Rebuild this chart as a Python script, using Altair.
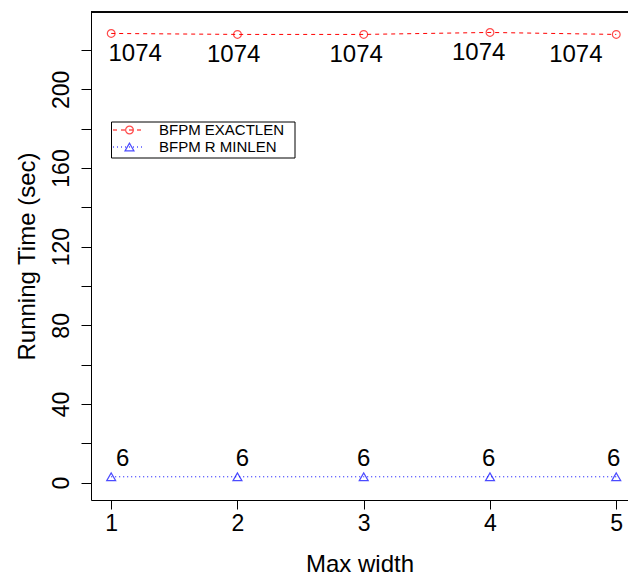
import altair as alt
import pandas as pd

# ---- data ----
max_width = [1, 2, 3, 4, 5]
exactlen_time = [228.4, 227.9, 227.9, 228.9, 227.9]
minlen_time = [3.0, 3.0, 3.0, 3.0, 3.0]
exactlen_label = ["1074", "1074", "1074", "1074", "1074"]
minlen_label = ["6", "6", "6", "6", "6"]
exactlen_label_x = [1.19, 1.97, 2.94, 3.91, 4.68]
minlen_label_x = [1.09, 2.04, 3.0, 3.99, 4.98]
legend_names = ["BFPM EXACTLEN", "BFPM R MINLEN"]
y_ticks = [0, 20, 40, 60, 80, 100, 120, 140, 160, 180, 200, 220]
x_ticks = [1, 2, 3, 4, 5]

FONT = "Liberation Sans"
W, H = 537, 488

red = pd.DataFrame({"x": max_width, "y": exactlen_time, "lx": exactlen_label_x, "lab": exactlen_label})
blue = pd.DataFrame({"x": max_width, "y": minlen_time, "lx": minlen_label_x, "lab": minlen_label})

xs = alt.Scale(domain=[0.84, 5.093], nice=False, zero=False)
ys = alt.Scale(domain=[-8.8, 239.3], nice=False, zero=False)

xaxis = alt.Axis(values=x_ticks, title="Max width", grid=False, tickSize=9, tickColor="black",
                 domainColor="black", labelFontSize=23, labelFont=FONT, labelColor="black",
                 labelPadding=3, titleFontSize=24, titleFont=FONT, titleFontWeight="normal",
                 titleColor="black", titleBaseline="alphabetic", titleY=71, format="d")
yaxis = alt.Axis(values=y_ticks, title="Running Time (sec)", grid=False, tickSize=10, tickColor="black",
                 domainColor="black", labelFontSize=23, labelFont=FONT, labelColor="black",
                 labelAngle=270, labelAlign="center", labelBaseline="alphabetic", labelPadding=13,
                 labelExpr="datum.value % 40 == 0 ? datum.label : ''",
                 titleFontSize=24, titleFont=FONT, titleFontWeight="normal", titleColor="black",
                 titleAngle=270, titleBaseline="alphabetic", titleX=-57, format="d")

base_r = alt.Chart(red)
base_b = alt.Chart(blue)

red_line = base_r.mark_line(color="#FF0000", strokeDash=[4, 4], strokeWidth=1).encode(
    x=alt.X("x:Q", scale=xs, axis=xaxis), y=alt.Y("y:Q", scale=ys, axis=yaxis))
red_pts = base_r.mark_point(shape="circle", filled=False, color="#FF0000", size=60, strokeWidth=1.2).encode(
    x=alt.X("x:Q", scale=xs), y=alt.Y("y:Q", scale=ys))
blue_line = base_b.mark_line(color="#0000FF", strokeDash=[1, 3], strokeWidth=1).encode(
    x=alt.X("x:Q", scale=xs), y=alt.Y("y:Q", scale=ys))
blue_pts = base_b.mark_point(shape="triangle-up", filled=False, color="#0000FF", size=80, strokeWidth=1.2).encode(
    x=alt.X("x:Q", scale=xs), y=alt.Y("y:Q", scale=ys))
red_txt = base_r.mark_text(font=FONT, fontSize=24, color="black", dy=21, baseline="middle").encode(
    x=alt.X("lx:Q", scale=xs), y=alt.Y("y:Q", scale=ys), text="lab:N")
blue_txt = base_b.mark_text(font=FONT, fontSize=24, color="black", dy=-18, baseline="middle").encode(
    x=alt.X("lx:Q", scale=xs), y=alt.Y("y:Q", scale=ys), text="lab:N")

top_border = alt.Chart(red).mark_rule(color="black", strokeWidth=1).encode(
    x=alt.value(0), x2=alt.value(W + 5), y=alt.value(0))

# ---- manual legend ----
leg = pd.DataFrame({"name": legend_names})
leg_box = alt.Chart(leg).transform_filter("datum.name == 'BFPM EXACTLEN'").mark_rect(
    fill="white", stroke="black", strokeWidth=1).encode(
    x=alt.value(20.5), x2=alt.value(204), y=alt.value(110), y2=alt.value(146))
leg_r_line = alt.Chart(leg).transform_filter("datum.name == 'BFPM EXACTLEN'").mark_rule(
    color="#FF0000", strokeDash=[4, 4], strokeWidth=1).encode(
    x=alt.value(22), x2=alt.value(51), y=alt.value(118))
leg_r_pt = alt.Chart(leg).transform_filter("datum.name == 'BFPM EXACTLEN'").mark_point(
    shape="circle", filled=False, color="#FF0000", size=60, strokeWidth=1.2).encode(
    x=alt.value(38.5), y=alt.value(118))
leg_b_line = alt.Chart(leg).transform_filter("datum.name == 'BFPM R MINLEN'").mark_rule(
    color="#0000FF", strokeDash=[1, 3], strokeWidth=1).encode(
    x=alt.value(22), x2=alt.value(51), y=alt.value(135))
leg_b_pt = alt.Chart(leg).transform_filter("datum.name == 'BFPM R MINLEN'").mark_point(
    shape="triangle-up", filled=False, color="#0000FF", size=80, strokeWidth=1.2).encode(
    x=alt.value(38.5), y=alt.value(135))
leg_r_txt = alt.Chart(leg).transform_filter("datum.name == 'BFPM EXACTLEN'").mark_text(
    font=FONT, fontSize=15, color="black", align="left", baseline="middle").encode(
    x=alt.value(68), y=alt.value(118), text="name:N")
leg_b_txt = alt.Chart(leg).transform_filter("datum.name == 'BFPM R MINLEN'").mark_text(
    font=FONT, fontSize=15, color="black", align="left", baseline="middle").encode(
    x=alt.value(68), y=alt.value(135), text="name:N")

chart = alt.layer(
    red_line, blue_line, red_pts, blue_pts, red_txt, blue_txt, top_border,
    leg_box, leg_r_line, leg_r_pt, leg_b_line, leg_b_pt, leg_r_txt, leg_b_txt
).properties(
    width=W, height=H,
    autosize=alt.AutoSizeParams(type="none"),
    padding={"left": 91, "top": 12, "right": 0, "bottom": 75},
    background="white",
).configure_view(stroke=None)

chart.save("out.html", embed_options={"renderer": "svg", "actions": False})
